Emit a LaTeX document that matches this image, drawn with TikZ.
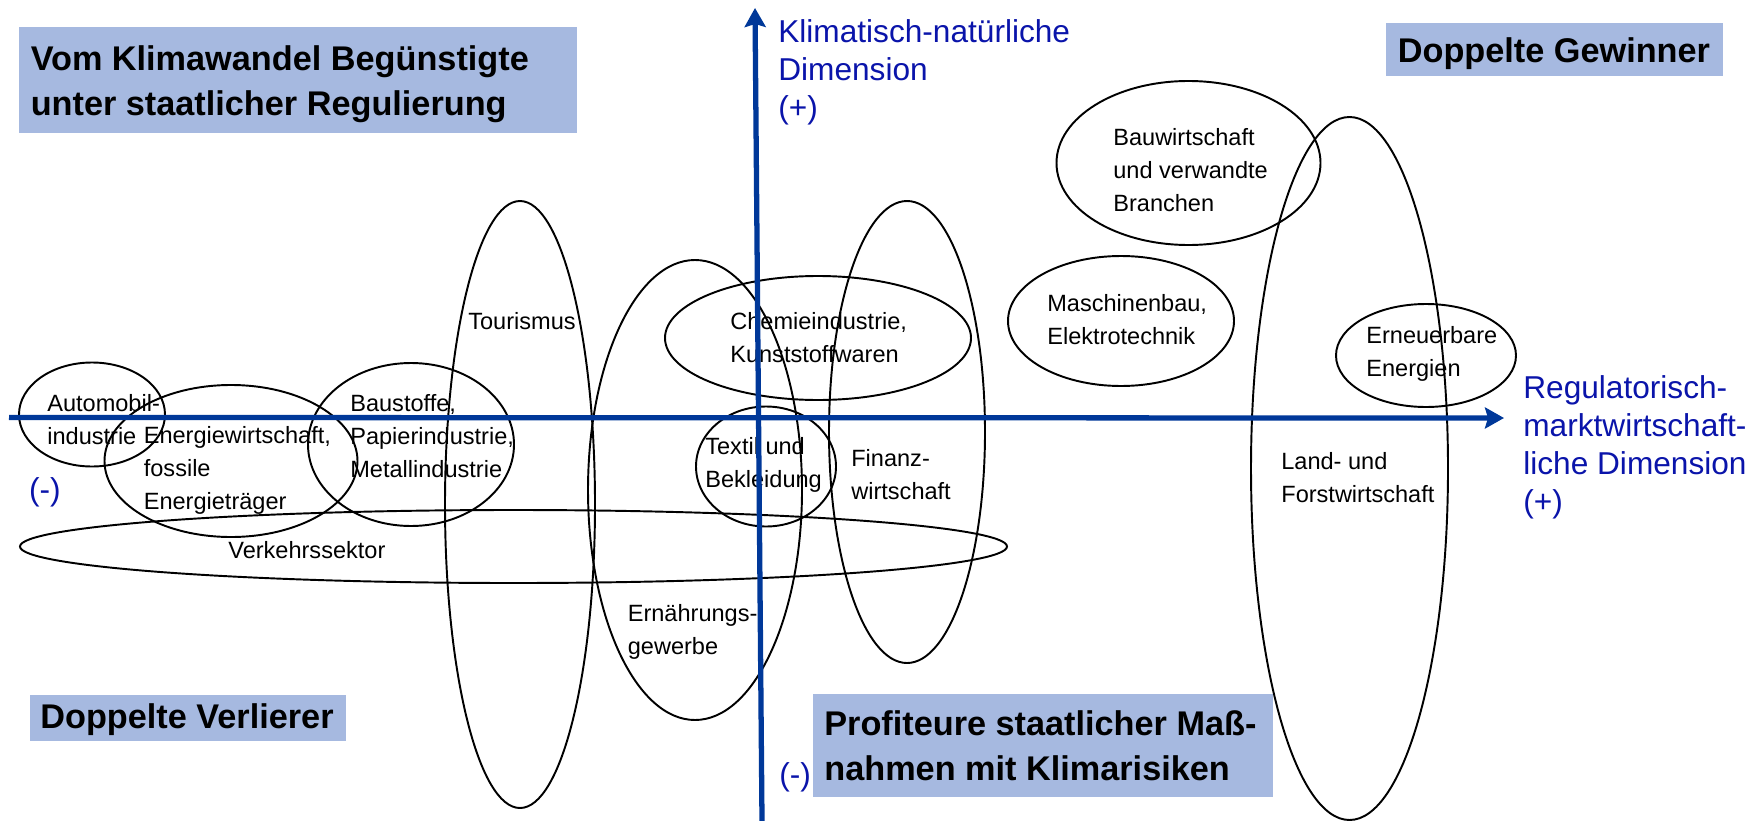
\documentclass[tikz,border=0pt]{standalone}
\usepackage{fontspec}
\setmainfont{Liberation Sans}
\usetikzlibrary{arrows.meta}
\definecolor{axisblue}{RGB}{0,56,153}
\definecolor{labelblue}{RGB}{10,20,170}
\definecolor{boxblue}{RGB}{166,185,224}
\begin{document}
\begin{tikzpicture}[x=0.02cm,y=-0.02cm,
    sector/.style={draw,line width=1.1pt},
    branch/.style={anchor=west,inner sep=0pt,align=left,font=\fontsize{13.4pt}{18.8pt}\selectfont},
    dim/.style={anchor=west,inner sep=0pt,align=left,text=labelblue,font=\fontsize{18pt}{21.6pt}\selectfont},
    quadrant/.style={anchor=north west,fill=boxblue,inner sep=0pt},
    quadtext/.style={anchor=west,inner sep=0pt,align=left,font=\bfseries\fontsize{19.5pt}{25.6pt}\selectfont},
    axis/.style={draw=axisblue,line width=3pt,-{Stealth[length=0.38cm,width=0.42cm,inset=0.06cm]}}]
\useasboundingbox (0,0) rectangle (1764,821);
% quadrants
\node[quadrant,minimum width=11.16cm,minimum height=2.12cm](nwbox) at (19,27) {};
\node[quadrant,minimum width=6.74cm,minimum height=1.06cm](nebox) at (1386,23) {};
\node[quadrant,minimum width=6.32cm,minimum height=0.92cm](swbox) at (30,695) {};
\node[quadrant,minimum width=9.2cm,minimum height=2.06cm](sebox) at (813,694) {};
\node[quadtext](nw) at (30.4,84.6) {Vom Klimawandel Begünstigte\\unter staatlicher Regulierung};
\node[quadtext](ne) at (1397.5,54) {Doppelte Gewinner};
\node[quadtext](sw) at (40,720) {Doppelte Verlierer};
\node[quadtext](se) at (824,746) {Profiteure staatlicher Maß-\\nahmen mit Klimarisiken};
% branches
\node[branch](auto) at (47,420) {Automobil-\\industrie};
\node[branch](energie) at (143.5,470) {Energiewirtschaft,\\fossile\\Energieträger};
\node[branch](baustoffe) at (350,436) {Baustoffe,\\Papierindustrie,\\Metallindustrie};
\node[branch](tourismus) at (468,321) {Tourismus};
\node[branch](chemie) at (730,338) {Chemieindustrie,\\Kunststoffwaren};
\node[branch](textil) at (705,465) {Textil und\\Bekleidung};
\node[branch](finanz) at (851,475) {Finanz-\\wirtschaft};
\node[branch](ernaehrung) at (627.5,632) {Ernährungs-\\gewerbe};
\node[branch](verkehr) at (228,550) {Verkehrssektor};
\node[branch](bau) at (1113,170) {Bauwirtschaft\\und verwandte\\Branchen};
\node[branch](maschinen) at (1047,319.5) {Maschinenbau,\\Elektrotechnik};
\node[branch](erneuerbar) at (1366,354) {Erneuerbare\\Energien};
\node[branch](land) at (1281,477.5) {Land- und\\Forstwirtschaft};
% sector ellipses
\draw[sector] (92,414.5) ellipse (73 and 52);
\draw[sector] (231,461) ellipse (126.5 and 76);
\draw[sector] (411,444.5) ellipse (103 and 81.5);
\draw[sector] (520,504.5) ellipse (75 and 303.5);
\draw[sector] (695,490) ellipse (107 and 230);
\draw[sector] (818,338) ellipse (153 and 62);
\draw[sector] (766,466.5) ellipse (70 and 60);
\draw[sector] (907,432) ellipse (78 and 231);
\draw[sector] (513.5,546.5) ellipse (493.5 and 36.5);
\draw[sector] (1188.5,163) ellipse (132 and 82);
\draw[sector] (1121,321) ellipse (113 and 65);
\draw[sector] (1426,355.5) ellipse (90 and 51.5);
\draw[sector] (1349.5,468.5) ellipse (98.5 and 351.5);
% axes
\coordinate (xleft) at (9,417.5);
\coordinate (xright) at (1504,418);
\coordinate (ybottom) at (762,821);
\coordinate (ytop) at (755,8);
\draw[axis] (xleft) -- (xright);
\draw[axis] (ybottom) -- (ytop);
\node[dim](klima) at (778,72) {Klimatisch-natürliche\\Dimension\\(+)};
\node[dim](regul) at (1523,447) {Regulatorisch-\\marktwirtschaft-\\liche Dimension\\(+)};
\node[dim](minusx) at (28.7,492) {(-)};
\node[dim](minusy) at (779,777) {(-)};
\end{tikzpicture}
\end{document}
